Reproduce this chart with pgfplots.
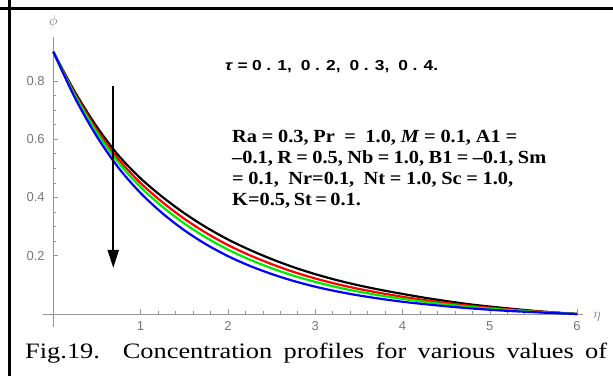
\documentclass[border=0pt]{standalone}
\usepackage{fontspec}
\setmainfont{Liberation Serif}
\newfontfamily\arial{Liberation Sans}
\usepackage{pgfplots}
\usepackage{pgfplotstable}
\pgfplotsset{compat=1.18}
\usetikzlibrary{arrows.meta}
\definecolor{axgray}{RGB}{150,150,150}
\definecolor{lblgray}{RGB}{120,120,120}
\definecolor{cgreen}{RGB}{0,235,0}
\definecolor{cblue}{RGB}{0,0,255}
\definecolor{cred}{RGB}{255,0,0}

\pgfplotstableread{
eta phi
0 0.9
0.25 0.7606
0.5 0.6418
0.75 0.5428
1.0 0.4655
1.25 0.4017
1.5 0.3460
1.75 0.2977
2.0 0.2558
2.25 0.2201
2.5 0.1886
2.75 0.1608
3.0 0.1368
3.25 0.1161
3.5 0.0982
3.75 0.0827
4.0 0.069
4.25 0.056
4.5 0.0445
4.75 0.034
5.0 0.0255
5.25 0.018
5.5 0.011
5.75 0.005
6 0
}\tauA
\pgfplotstableread{
eta phi
0 0.9
0.25 0.7545
0.5 0.6315
0.75 0.5296
1.0 0.4494
1.25 0.3836
1.5 0.3269
1.75 0.2783
2.0 0.2367
2.25 0.2016
2.5 0.1712
2.75 0.1446
3.0 0.1219
3.25 0.1026
3.5 0.0861
3.75 0.0719
4.0 0.059
4.25 0.048
4.5 0.038
4.75 0.029
5.0 0.0215
5.25 0.015
5.5 0.0095
5.75 0.0045
6 0
}\tauB
\pgfplotstableread{
eta phi
0 0.9
0.25 0.7489
0.5 0.6222
0.75 0.5177
1.0 0.4353
1.25 0.3681
1.5 0.3108
1.75 0.2623
2.0 0.2211
2.25 0.1866
2.5 0.1572
2.75 0.1317
3.0 0.1102
3.25 0.0920
3.5 0.0766
3.75 0.0635
4.0 0.052
4.25 0.042
4.5 0.033
4.75 0.025
5.0 0.0185
5.25 0.013
5.5 0.008
5.75 0.004
6 0
}\tauC
\pgfplotstableread{
eta phi
0 0.9
0.25 0.7405
0.5 0.6085
0.75 0.5006
1.0 0.4151
1.25 0.3456
1.5 0.2875
1.75 0.2391
2.0 0.1987
2.25 0.1653
2.5 0.1373
2.75 0.1136
3.0 0.0938
3.25 0.0774
3.5 0.0637
3.75 0.0522
4.0 0.042
4.25 0.034
4.5 0.0265
4.75 0.020
5.0 0.0145
5.25 0.010
5.5 0.0063
5.75 0.003
6 0
}\tauD

\begin{document}
\begin{tikzpicture}
\useasboundingbox (0,0) rectangle (613pt,376pt);
\fill[white] (0,0) rectangle (613pt,376pt);
% frame lines
\draw[line width=2.3pt] (9.5pt,0) -- (9.5pt,376pt);
\draw[line width=2.5pt] (0,{376pt-8.7pt}) -- (613pt,{376pt-8.7pt});
\begin{axis}[
  at={(53.3pt,62pt)}, anchor=origin,
  x=87.3pt, y=291.4pt,
  xmin=-0.12, xmax=6.07, ymin=-0.045, ymax=0.95,
  axis lines=middle,
  axis line style={-, axgray, line width=0.8pt},
  clip=false,
  xtick={1,2,3,4,5,6},
  ytick={0.2,0.4,0.6,0.8},
  minor x tick num=4,
  minor y tick num=3,
  tick align=inside,
  major tick length=5pt,
  minor tick length=3pt,
  tick style={axgray, line width=0.6pt},
  /pgf/number format/assume math mode=true,
  ticklabel style={font=\arial\fontsize{13}{13}\selectfont, text=lblgray, inner sep=0pt},
  xticklabel style={anchor=north, yshift=-7.5pt},
  yticklabel style={anchor=east, xshift=-8.5pt, /pgf/number format/fixed, /pgf/number format/precision=1},
]
\addplot[black, line width=2.2pt, smooth] table[x=eta,y=phi] {\tauA};
\addplot[cred, line width=2.2pt, smooth] table[x=eta,y=phi] {\tauB};
\addplot[cgreen, line width=2.2pt, smooth] table[x=eta,y=phi] {\tauC};
\addplot[cblue, line width=2.2pt, smooth] table[x=eta,y=phi] {\tauD};
\draw[black, line width=2pt, -{Triangle[length=18pt, width=11pt]}] (axis cs:0.687,0.782) -- (axis cs:0.687,0.158);
\node[text=lblgray, font=\fontsize{14}{14}\selectfont] at (axis cs:0,1.003) {$\phi$};
\node[text=lblgray, font=\fontsize{14}{14}\selectfont] at (axis cs:6.228,-0.009) {$\eta$};
\end{axis}
% tau annotation
\node[anchor=base west, inner sep=0pt] at (225pt,{376pt-70pt}) {\scalebox{1.2}[1]{\arial\bfseries\fontsize{14.5}{14.5}\selectfont\makebox[177.5pt][s]{\textit{τ} = 0 . 1,\ \ 0 . 2,\ \ 0 . 3,\ \ 0 . 4.}}};
% parameter block
\node[anchor=base west, inner sep=0pt] at (232pt,{376pt-142.5pt}) {\scalebox{1.1}[1]{\bfseries\fontsize{18.5}{18.5}\selectfont\makebox[259pt][s]{Ra = 0.3, Pr \ = \ 1.0, \textit{M} = 0.1, A1 =}}};
\node[anchor=base west, inner sep=0pt] at (232pt,{376pt-163.5pt}) {\scalebox{1.1}[1]{\bfseries\fontsize{18.5}{18.5}\selectfont\makebox[285.5pt][s]{–0.1, R = 0.5, Nb = 1.0, B1 = –0.1, Sm}}};
\node[anchor=base west, inner sep=0pt] at (232pt,{376pt-184.5pt}) {\scalebox{1.1}[1]{\bfseries\fontsize{18.5}{18.5}\selectfont\makebox[255.5pt][s]{= 0.1, \ Nr=0.1, \ Nt = 1.0, Sc = 1.0,}}};
\node[anchor=base west, inner sep=0pt] at (232pt,{376pt-205.5pt}) {\scalebox{1.1}[1]{\bfseries\fontsize{18.5}{18.5}\selectfont\makebox[116.4pt][s]{K=0.5, St = 0.1.}}};
% caption
\node[anchor=base west, inner sep=0pt] at (25pt,{376pt-358pt}) {\scalebox{1.2}[1]{\fontsize{22}{22}\selectfont\makebox[485pt][s]{Fig.19. Concentration profiles for various values of}}};
\end{tikzpicture}
\end{document}
